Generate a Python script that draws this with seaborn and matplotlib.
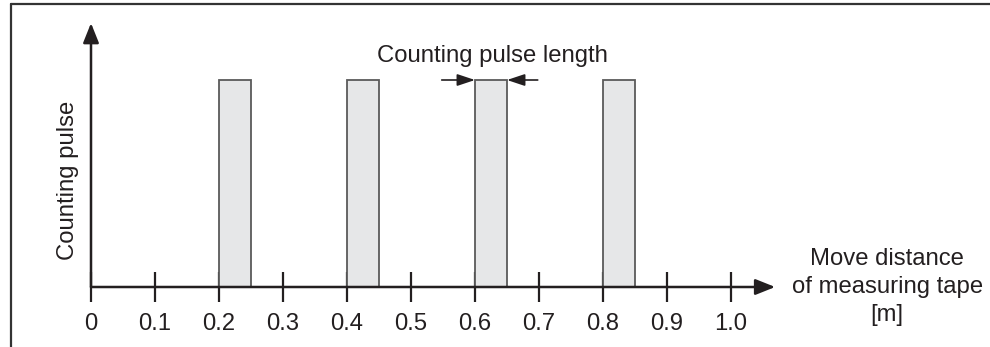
import pandas as pd
import seaborn as sns
import matplotlib.pyplot as plt
from matplotlib.lines import Line2D

# pulse positions along the tape (start of each pulse) and pulse length
pulse_start = [0.2, 0.4, 0.6, 0.8]
pulse_len = 0.05
pulse_height = [1, 1, 1, 1]
tick_pos = [0, 0.1, 0.2, 0.3, 0.4, 0.5, 0.6, 0.7, 0.8, 0.9, 1.0]
tick_lab = ["0", "0.1", "0.2", "0.3", "0.4", "0.5", "0.6", "0.7", "0.8", "0.9", "1.0"]

ink = "#231f20"
fs = 17.2

sns.set_theme(style="white")
plt.rcParams["font.family"] = ["Liberation Sans", "DejaVu Sans"]

fig = plt.figure(figsize=(9.9, 3.47), dpi=100)
ax = fig.add_axes([0, 0, 1, 1])

# bars: centre of each pulse, native scale so width is in data units
df = pd.DataFrame({"x": [s + pulse_len / 2 for s in pulse_start], "y": pulse_height})
sns.barplot(data=df, x="x", y="y", native_scale=True, width=pulse_len / 0.2,
            color="#e6e7e8", saturation=1, edgecolor="#5a5a5a", linewidth=1.3,
            ax=ax, zorder=3)

# layout: x=0 at 91px, 0.1 per 64px; y=0 at 287px, y=1 at 80px
ax.set_xlim(-91 / 640, (990 - 91) / 640)
ax.set_ylim(-60 / 207, 287 / 207)
ax.set_xlabel("")
ax.set_ylabel("")
for sp in ax.spines.values():
    sp.set_visible(False)
ax.spines["bottom"].set_position(("data", 0))
ax.set_xticks(tick_pos)
ax.set_xticklabels(tick_lab, fontsize=fs, color=ink)
ax.tick_params(axis="x", direction="inout", length=21, width=1.6, color=ink,
               pad=8, bottom=True)
ax.set_yticks([])

# axis arrows
arrow = dict(arrowstyle="-|>,head_length=1.0,head_width=0.4", color=ink, lw=1.8,
             shrinkA=0, shrinkB=0)
ax.annotate("", xy=(1.069, 0), xytext=(0, 0), arrowprops=arrow, zorder=4)
ax.annotate("", xy=(0, 1.275), xytext=(0, 0), arrowprops=arrow, zorder=4)

# pulse length marker on the third pulse
x0 = pulse_start[2]
x1 = pulse_start[2] + pulse_len
small = dict(arrowstyle="-|>,head_length=0.9,head_width=0.3", color=ink, lw=1.2,
             shrinkA=0, shrinkB=0)
ax.annotate("", xy=(x0, 1.0), xytext=(x0 - 0.052, 1.0), arrowprops=small, zorder=5)
ax.annotate("", xy=(x1, 1.0), xytext=(x1 + 0.048, 1.0), arrowprops=small, zorder=5)
ax.text(0.628, 1.116, "Counting pulse length", fontsize=fs, color=ink,
        ha="center", va="center")

ax.text(-0.036, 0.517, "Counting pulse", fontsize=fs, color=ink, rotation=90,
        ha="center", va="center")
ax.text(1.244, 0.0, "Move distance\nof measuring tape\n[m]", fontsize=fs,
        color=ink, ha="center", va="center", linespacing=1.35)

# frame lines (top and left)
fig.add_artist(Line2D([11 / 990, 1], [1 - 4 / 347, 1 - 4 / 347], color="#333333", lw=1.6))
fig.add_artist(Line2D([11 / 990, 11 / 990], [0, 1 - 4 / 347], color="#333333", lw=1.6))

fig.savefig("out.png", dpi=100)
